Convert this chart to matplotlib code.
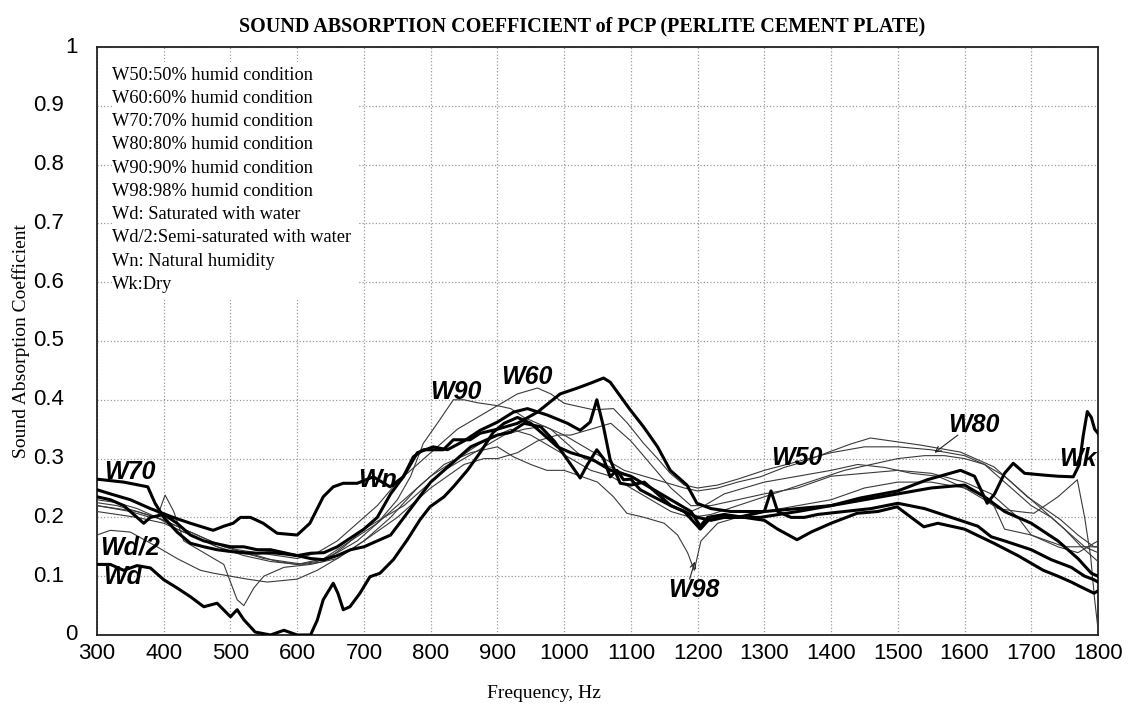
import matplotlib
matplotlib.use("Agg")
import matplotlib.pyplot as plt

# ---- measured absorption curves (frequency in Hz, coefficient) ----
f_wd = [300, 320, 340, 360, 380, 400, 420, 440, 460, 480, 500, 510, 520, 537, 560, 580, 600,
        620, 630, 639, 654, 661, 669, 679, 694, 709, 724, 744, 765, 784, 799, 820, 834, 855,
        874, 894, 910, 930, 950, 970, 990, 1010, 1040, 1070, 1100, 1130, 1160, 1190, 1204,
        1215, 1240, 1270, 1300, 1320, 1349, 1370, 1400, 1439, 1470, 1499, 1520, 1539, 1560,
        1600, 1644, 1680, 1718, 1740, 1760, 1774, 1794, 1800]
v_wd = [0.12, 0.12, 0.11, 0.118, 0.114, 0.094, 0.08, 0.065, 0.048, 0.054, 0.031, 0.043, 0.026,
        0.005, 0.0, 0.008, 0.0, 0.0, 0.025, 0.06, 0.088, 0.071, 0.043, 0.048, 0.071, 0.099,
        0.105, 0.128, 0.162, 0.196, 0.218, 0.235, 0.252, 0.28, 0.31, 0.345, 0.36, 0.37, 0.36,
        0.34, 0.32, 0.31, 0.3, 0.28, 0.27, 0.25, 0.23, 0.21, 0.185, 0.2, 0.205, 0.2, 0.195,
        0.18, 0.162, 0.175, 0.19, 0.207, 0.21, 0.218, 0.2, 0.184, 0.19, 0.18, 0.156, 0.135,
        0.11, 0.1, 0.09, 0.082, 0.071, 0.075]

f_wn = [300, 320, 350, 380, 414, 440, 474, 490, 504, 515, 530, 549, 570, 600, 619, 639, 654,
        669, 690, 714, 739, 759, 774, 789, 819, 834, 859, 874, 900, 930, 960, 994, 1020, 1039,
        1059, 1069, 1099, 1119, 1140, 1159, 1184, 1199, 1220, 1250, 1300, 1350, 1400, 1450,
        1500, 1550, 1600, 1630, 1660, 1700, 1740, 1770, 1790, 1800]
v_wn = [0.247, 0.24, 0.23, 0.215, 0.2, 0.19, 0.178, 0.185, 0.19, 0.2, 0.2, 0.19, 0.173, 0.17,
        0.19, 0.235, 0.252, 0.258, 0.258, 0.269, 0.252, 0.269, 0.303, 0.315, 0.315, 0.332,
        0.332, 0.343, 0.35, 0.36, 0.379, 0.41, 0.42, 0.428, 0.437, 0.43, 0.383, 0.354, 0.32,
        0.28, 0.255, 0.224, 0.215, 0.21, 0.21, 0.215, 0.22, 0.23, 0.24, 0.25, 0.255, 0.235,
        0.21, 0.19, 0.16, 0.13, 0.105, 0.1]

f_wk = [300, 320, 340, 360, 370, 380, 400, 420, 440, 460, 480, 500, 520, 540, 560, 580, 600,
        620, 640, 660, 680, 700, 720, 740, 760, 780, 800, 820, 840, 860, 880, 900, 920, 940,
        965, 985, 1005, 1024, 1035, 1049, 1059, 1069, 1079, 1089, 1100, 1114, 1134, 1160,
        1180, 1204, 1220, 1260, 1294, 1350, 1400, 1444, 1500, 1544, 1594, 1615, 1634, 1645,
        1660, 1673, 1690, 1718, 1740, 1763, 1772, 1778, 1784, 1790, 1795, 1800]
v_wk = [0.235, 0.23, 0.22, 0.2, 0.19, 0.2, 0.205, 0.19, 0.17, 0.16, 0.155, 0.15, 0.15, 0.145,
        0.145, 0.14, 0.135, 0.13, 0.128, 0.135, 0.145, 0.15, 0.16, 0.17, 0.2, 0.23, 0.26, 0.28,
        0.3, 0.32, 0.33, 0.34, 0.345, 0.36, 0.354, 0.33, 0.298, 0.267, 0.29, 0.315, 0.3, 0.269,
        0.28, 0.264, 0.265, 0.247, 0.235, 0.22, 0.21, 0.18, 0.2, 0.2, 0.2, 0.21, 0.22, 0.233,
        0.245, 0.264, 0.28, 0.27, 0.224, 0.24, 0.275, 0.292, 0.275, 0.272, 0.27, 0.269, 0.29,
        0.34, 0.38, 0.37, 0.35, 0.343]

f_w70 = [300, 340, 376, 387, 400, 420, 440, 460, 480, 500, 520, 540, 560, 580, 600, 620, 640,
         660, 680, 700, 720, 740, 759, 780, 804, 825, 850, 874, 900, 924, 945, 975, 1005,
         1024, 1039, 1049, 1059, 1069, 1084, 1100, 1120, 1140, 1160, 1180, 1200, 1220, 1240,
         1260, 1280, 1300, 1310, 1320, 1340, 1360, 1380, 1420, 1460, 1500, 1540, 1580, 1620,
         1640, 1660, 1700, 1730, 1760, 1780, 1794, 1800]
v_w70 = [0.265, 0.26, 0.252, 0.224, 0.2, 0.175, 0.156, 0.15, 0.145, 0.142, 0.14, 0.139, 0.14,
         0.138, 0.135, 0.139, 0.14, 0.15, 0.165, 0.18, 0.2, 0.24, 0.269, 0.31, 0.32, 0.315,
         0.33, 0.348, 0.362, 0.379, 0.385, 0.374, 0.36, 0.348, 0.362, 0.4, 0.354, 0.298,
         0.258, 0.255, 0.26, 0.24, 0.22, 0.21, 0.2, 0.195, 0.2, 0.2, 0.205, 0.21, 0.245, 0.21,
         0.2, 0.2, 0.205, 0.21, 0.215, 0.224, 0.215, 0.2, 0.185, 0.167, 0.16, 0.145, 0.128,
         0.115, 0.1, 0.094, 0.09]

f_w90 = [300, 330, 360, 390, 420, 450, 480, 510, 540, 570, 600, 630, 660, 690, 720, 750, 770,
         789, 810, 834, 850, 870, 900, 920, 940, 960, 980, 1000, 1030, 1060, 1080, 1100, 1130,
         1160, 1190, 1210, 1240, 1270, 1300, 1350, 1400, 1440, 1480, 1520, 1560, 1600, 1630,
         1650, 1680, 1704, 1740, 1769, 1780, 1789, 1795, 1800]
v_w90 = [0.22, 0.215, 0.21, 0.2, 0.18, 0.165, 0.15, 0.14, 0.135, 0.125, 0.12, 0.125, 0.14,
         0.16, 0.19, 0.23, 0.27, 0.326, 0.36, 0.4, 0.4, 0.395, 0.39, 0.385, 0.37, 0.36, 0.35,
         0.33, 0.3, 0.29, 0.28, 0.27, 0.25, 0.23, 0.21, 0.22, 0.24, 0.25, 0.26, 0.27, 0.28,
         0.29, 0.285, 0.275, 0.27, 0.25, 0.23, 0.215, 0.21, 0.207, 0.235, 0.264, 0.2, 0.133,
         0.06, 0.01]

f_w60 = [300, 330, 360, 390, 420, 450, 480, 510, 540, 570, 600, 630, 660, 690, 720, 750, 780,
         810, 840, 870, 900, 930, 960, 980, 1000, 1044, 1074, 1095, 1119, 1140, 1159, 1180,
         1200, 1230, 1260, 1300, 1350, 1400, 1450, 1500, 1550, 1600, 1630, 1660, 1700, 1730,
         1760, 1780, 1800]
v_w60 = [0.23, 0.225, 0.215, 0.2, 0.185, 0.17, 0.155, 0.145, 0.14, 0.135, 0.13, 0.14, 0.16,
         0.19, 0.22, 0.26, 0.29, 0.32, 0.35, 0.37, 0.39, 0.41, 0.42, 0.41, 0.394, 0.383, 0.385,
         0.36, 0.326, 0.3, 0.275, 0.255, 0.25, 0.255, 0.265, 0.28, 0.295, 0.31, 0.32, 0.32,
         0.315, 0.305, 0.29, 0.26, 0.22, 0.2, 0.17, 0.15, 0.14]

f_w50 = [300, 330, 360, 400, 430, 460, 490, 520, 550, 580, 610, 640, 670, 700, 730, 760, 790,
         820, 850, 880, 910, 940, 970, 1000, 1030, 1060, 1090, 1120, 1150, 1180, 1200, 1230,
         1260, 1294, 1330, 1360, 1394, 1430, 1459, 1490, 1534, 1594, 1644, 1670, 1694, 1720,
         1744, 1770, 1794, 1800]
v_w50 = [0.225, 0.22, 0.21, 0.195, 0.18, 0.165, 0.15, 0.14, 0.13, 0.125, 0.12, 0.125, 0.15,
         0.18, 0.2, 0.22, 0.25, 0.28, 0.3, 0.32, 0.34, 0.35, 0.355, 0.34, 0.32, 0.3, 0.28,
         0.27, 0.26, 0.25, 0.245, 0.25, 0.26, 0.269, 0.285, 0.295, 0.31, 0.325, 0.335, 0.33,
         0.323, 0.311, 0.286, 0.26, 0.235, 0.215, 0.196, 0.17, 0.15, 0.15]

f_w80 = [300, 330, 360, 400, 440, 480, 520, 560, 600, 640, 680, 720, 760, 800, 840, 880, 920,
         950, 980, 1010, 1040, 1070, 1100, 1130, 1160, 1190, 1220, 1260, 1300, 1340, 1380,
         1420, 1460, 1500, 1540, 1570, 1600, 1630, 1660, 1690, 1720, 1750, 1775, 1800]
v_w80 = [0.21, 0.205, 0.2, 0.19, 0.17, 0.15, 0.135, 0.125, 0.12, 0.13, 0.16, 0.19, 0.23, 0.27,
         0.3, 0.33, 0.35, 0.34, 0.32, 0.3, 0.28, 0.27, 0.25, 0.23, 0.21, 0.2, 0.205, 0.22,
         0.235, 0.25, 0.265, 0.28, 0.29, 0.3, 0.305, 0.305, 0.3, 0.29, 0.27, 0.24, 0.21, 0.18,
         0.15, 0.125]

f_w98 = [300, 350, 380, 390, 402, 415, 430, 460, 490, 500, 510, 520, 535, 550, 580, 620, 660,
         700, 740, 780, 820, 860, 900, 924, 950, 974, 1000, 1050, 1074, 1094, 1120, 1150, 1170,
         1185, 1195, 1205, 1230, 1260, 1300, 1350, 1400, 1450, 1500, 1550, 1600, 1640, 1660,
         1700, 1750, 1800]
v_w98 = [0.22, 0.21, 0.2, 0.2, 0.238, 0.21, 0.16, 0.14, 0.12, 0.09, 0.06, 0.05, 0.08, 0.1,
         0.115, 0.12, 0.13, 0.16, 0.2, 0.25, 0.29, 0.31, 0.32, 0.303, 0.29, 0.28, 0.28, 0.26,
         0.235, 0.207, 0.2, 0.19, 0.17, 0.14, 0.11, 0.16, 0.19, 0.2, 0.21, 0.22, 0.23, 0.25,
         0.26, 0.26, 0.25, 0.23, 0.18, 0.17, 0.15, 0.15]

f_wd2 = [300, 320, 350, 390, 420, 455, 475, 500, 525, 555, 600, 630, 660, 700, 750, 800, 850,
         880, 900, 930, 960, 990, 1010, 1040, 1070, 1100, 1130, 1160, 1190, 1220, 1260, 1300,
         1350, 1400, 1450, 1500, 1550, 1600, 1640, 1680, 1700, 1740, 1770, 1800]
v_wd2 = [0.17, 0.178, 0.175, 0.15, 0.13, 0.11, 0.105, 0.1, 0.095, 0.09, 0.095, 0.11, 0.13,
         0.16, 0.2, 0.25, 0.29, 0.3, 0.3, 0.31, 0.33, 0.34, 0.34, 0.35, 0.36, 0.33, 0.29, 0.25,
         0.22, 0.22, 0.23, 0.24, 0.25, 0.27, 0.275, 0.28, 0.275, 0.26, 0.24, 0.2, 0.17, 0.15,
         0.14, 0.16]

legend_lines = [
    "W50:50% humid condition",
    "W60:60% humid condition",
    "W70:70% humid condition",
    "W80:80% humid condition",
    "W90:90% humid condition",
    "W98:98% humid condition",
    "Wd: Saturated with water",
    "Wd/2:Semi-saturated with water",
    "Wn: Natural humidity",
    "Wk:Dry",
]

x_ticks = list(range(300, 1801, 100))
y_ticks = [0, 0.1, 0.2, 0.3, 0.4, 0.5, 0.6, 0.7, 0.8, 0.9, 1]
y_tick_labels = ["0", "0.1", "0.2", "0.3", "0.4", "0.5", "0.6", "0.7", "0.8", "0.9", "1"]

# ---- figure ----
fig = plt.figure(figsize=(11.28, 7.06), dpi=100)
ax = fig.add_axes([0.086, 0.1006, 0.8874, 0.8328])

thin = dict(color="#3a3a3a", lw=0.8, zorder=3)
thick = dict(color="black", lw=2.2, zorder=4)

for f, v in [(f_w50, v_w50), (f_w60, v_w60), (f_w80, v_w80), (f_w90, v_w90),
             (f_w98, v_w98), (f_wd2, v_wd2)]:
    ax.plot(f, v, **thin)
for f, v in [(f_wd, v_wd), (f_wn, v_wn), (f_wk, v_wk), (f_w70, v_w70)]:
    ax.plot(f, v, **thick)

ax.set_xlim(300, 1800)
ax.set_ylim(0, 1)
ax.set_xticks(x_ticks)
ax.set_yticks(y_ticks)
ax.set_yticklabels([])
ax.tick_params(axis="x", length=0, pad=6)
ax.tick_params(axis="y", length=0)
tick_family = ["Liberation Sans Narrow", "Liberation Sans"]
for lab in ax.get_xticklabels():
    lab.set_fontfamily(tick_family)
    lab.set_fontsize(16)

# y tick labels: single digits sit closer to the frame than decimal ones
for val, txt in zip(y_ticks, y_tick_labels):
    xpos = -0.019 if len(txt) == 1 else -0.033
    ax.text(xpos, val, txt, transform=ax.get_yaxis_transform(), ha="right",
            va="center", family=tick_family, size=16)

ax.grid(True, color="#9a9a9a", linestyle=":", linewidth=0.9)
for s in ax.spines.values():
    s.set_linewidth(1.3)
    s.set_color("#222222")

ax.set_title("SOUND ABSORPTION COEFFICIENT of PCP (PERLITE CEMENT PLATE)",
             family="Liberation Serif", weight="bold", size=14.5, pad=11, x=0.485)
ax.set_xlabel("Frequency, Hz", family="Liberation Serif", size=14)
ax.xaxis.set_label_coords(0.446, -0.085)
ax.set_ylabel("Sound Absorption Coefficient", family="Liberation Serif", size=14)
ax.yaxis.set_label_coords(-0.067, 0.5)

# white panel holding the condition key
ax.add_patch(plt.Rectangle((322, 0.57), 370, 0.405, facecolor="white",
                           edgecolor="none", zorder=2))
for i, line in enumerate(legend_lines):
    ax.text(323, 0.952 - i * 0.0395, line, family="Liberation Serif", size=13.2,
            va="center", ha="left", zorder=5)

# curve labels
lab = dict(family=["Liberation Sans Narrow", "Liberation Sans"], weight="bold",
           style="italic", size=18, zorder=6, va="center")
ax.text(311, 0.277, "W70", **lab)
ax.text(305, 0.148, "Wd/2", **lab)
ax.text(309, 0.099, "Wd", **lab)
ax.text(692, 0.264, "Wn", **lab)
ax.text(800, 0.413, "W90", **lab)
ax.text(905, 0.439, "W60", **lab)
ax.text(1310, 0.301, "W50", **lab)
ax.text(1575, 0.357, "W80", **lab)
ax.text(1156, 0.077, "W98", **lab)
ax.text(1742, 0.299, "Wk", **lab)

arrow = dict(arrowstyle="->", color="#222222", lw=0.8, shrinkA=0, shrinkB=0)
ax.annotate("", xy=(1555, 0.31), xytext=(1590, 0.34), arrowprops=arrow, zorder=6)
ax.annotate("", xy=(1196, 0.125), xytext=(1188, 0.095), arrowprops=arrow, zorder=6)

fig.savefig("out.png", dpi=100)
